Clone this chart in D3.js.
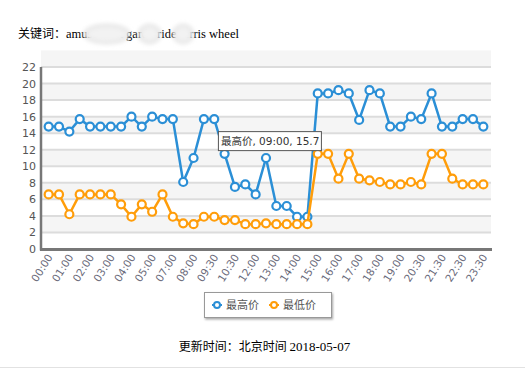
<!DOCTYPE html>
<html>
<head>
<meta charset="utf-8">
<script src="https://cdn.jsdelivr.net/npm/d3@7"></script>
<style>
  body { margin: 0; background: #fff; }
  svg { display: block; }
  .tick-lbl { font-family: Verdana, "DejaVu Sans", sans-serif; font-size: 11px; fill: #555; }
  .cjk { font-family: "Noto Sans CJK SC", sans-serif; }
  .serif { font-family: "Liberation Serif", "Times New Roman", serif; }
</style>
</head>
<body>
<div id="chart"></div>
<script>
// half-hour slots (a few are missing in the source data)
const times = ['00:00', '00:30', '01:00', '01:30', '02:00', '02:30', '03:00', '03:30',
  '04:00', '04:30', '05:00', '06:00', '07:00', '07:30', '08:00', '09:00', '09:30',
  '10:00', '10:30', '11:00', '12:00', '12:30', '13:00', '13:30', '14:00', '14:30',
  '15:00', '15:30', '16:00', '16:30', '17:00', '17:30', '18:00', '18:30', '19:00',
  '20:00', '20:30', '21:00', '21:30', '22:00', '22:30', '23:00', '23:30'];

const highPrice = [14.8, 14.8, 14.2, 15.7, 14.8, 14.8, 14.8, 14.8, 16.0, 14.8, 16.0,
  15.7, 15.7, 8.1, 11.0, 15.7, 15.7, 11.5, 7.5, 7.8, 6.6, 11.0, 5.2, 5.2, 3.9, 3.9,
  18.8, 18.8, 19.2, 18.8, 15.6, 19.2, 18.8, 14.8, 14.8, 16.0, 15.7, 18.8, 14.8, 14.8,
  15.7, 15.7, 14.8];

const lowPrice = [6.6, 6.6, 4.2, 6.6, 6.6, 6.6, 6.6, 5.4, 3.9, 5.4, 4.5, 6.6, 3.9,
  3.1, 3.0, 3.9, 3.9, 3.5, 3.5, 3.0, 3.0, 3.1, 3.0, 3.0, 3.0, 3.0, 11.5, 11.5, 8.5,
  11.5, 8.5, 8.3, 8.1, 7.8, 7.8, 8.1, 7.8, 11.5, 11.5, 8.5, 7.8, 7.8, 7.8];

const yTicks = d3.range(0, 23, 2);
const seriesNames = ['最高价', '最低价'];
const seriesColors = ['#2b8fd6', '#ff9d0a'];

// keyword pieces; the hidden ones are smudged over in the original
const keywordParts = [['amu', false], ['sement ', true], ['gar', false], ['de ', true],
  ['ride', false], [' fe', true], ['rris wheel', false]];

const W = 525, H = 371;
const plotL = 41, plotR = 491, plotT = 67, plotB = 249;

const svg = d3.select('#chart').append('svg').attr('width', W).attr('height', H);

const defs = svg.append('defs');
const blur = defs.append('filter').attr('id', 'blur')
  .attr('x', '-50%').attr('y', '-50%').attr('width', '200%').attr('height', '200%');
blur.append('feGaussianBlur').attr('stdDeviation', 2);
const shadow = defs.append('filter').attr('id', 'shadow')
  .attr('x', '-20%').attr('y', '-30%').attr('width', '140%').attr('height', '170%');
shadow.append('feDropShadow').attr('dx', 1).attr('dy', 1.5)
  .attr('stdDeviation', 1.2).attr('flood-color', '#000').attr('flood-opacity', 0.35);

/* title */
const title = svg.append('text').attr('x', 18).attr('y', 38).style('font-size', '12px');
title.append('tspan').attr('class', 'cjk').text('关键词：');
const kw = title.selectAll('tspan.kw').data(keywordParts).enter().append('tspan')
  .attr('class', 'kw serif')
  .style('font-size', '12.5px')
  .text((d) => d[0]);

const smudgeG = svg.append('g').attr('filter', 'url(#blur)');
kw.filter((d) => d[1]).each(function () {
  const b = this.getBBox();
  smudgeG.append('ellipse')
    .attr('cx', b.x + b.width / 2).attr('cy', b.y + b.height / 2)
    .attr('rx', b.width / 2 + 3).attr('ry', b.height / 2 + 2)
    .attr('fill', '#f2f2f2').attr('stroke', '#dcdcdc').attr('stroke-width', 2);
});

/* scales */
const x = d3.scalePoint().domain(times).range([plotL, plotR]).padding(0.74);
const y = d3.scaleLinear().domain([0, 22]).range([plotB, plotT]);

const plot = svg.append('g').attr('class', 'chart-g');

// alternating bands
plot.selectAll('rect.band')
  .data(yTicks.filter((d) => d % 4 === 2))
  .enter().append('rect')
  .attr('class', 'band')
  .attr('x', plotL).attr('width', plotR - plotL)
  .attr('y', (d) => y(d + 2)).attr('height', (d) => y(d) - y(d + 2))
  .attr('fill', '#f5f5f5');

plot.selectAll('line.grid')
  .data(yTicks.filter((d) => d > 0))
  .enter().append('line')
  .attr('class', 'grid')
  .attr('x1', plotL).attr('x2', plotR)
  .attr('y1', (d) => y(d)).attr('y2', (d) => y(d))
  .attr('stroke', '#dcdcdc').attr('stroke-width', 2);

// axes
const yAxis = svg.append('g')
  .attr('transform', `translate(${plotL},0)`)
  .call(d3.axisLeft(y).tickValues(yTicks).tickSize(0).tickPadding(5));
yAxis.select('.domain').remove();
yAxis.selectAll('text').attr('class', 'tick-lbl').attr('fill', null);

const xAxis = svg.append('g')
  .attr('transform', `translate(0,${plotB})`)
  .call(d3.axisBottom(x).tickValues(times.filter((d, i) => i % 2 === 0)).tickSize(0));
xAxis.select('.domain').remove();
xAxis.selectAll('text')
  .attr('class', 'tick-lbl')
  .attr('fill', null)
  .style('fill', '#6a6a7a')
  .style('font-size', '10.5px')
  .attr('text-anchor', 'end')
  .attr('dy', null)
  .attr('y', 0)
  .attr('transform', 'translate(4,8) rotate(-58)');

svg.append('line')
  .attr('x1', plotL).attr('x2', plotL).attr('y1', plotT).attr('y2', plotB + 1.5)
  .attr('stroke', '#777').attr('stroke-width', 2.5);
svg.append('line')
  .attr('x1', plotL - 1).attr('x2', plotR + 1).attr('y1', plotB + 0.5).attr('y2', plotB + 0.5)
  .attr('stroke', '#777').attr('stroke-width', 3);

/* series */
const line = d3.line().x((d, i) => x(times[i])).y((d) => y(d));

[highPrice, lowPrice].forEach((vals, k) => {
  const g = svg.append('g').attr('class', 'series');
  g.append('path')
    .attr('d', line(vals))
    .attr('fill', 'none')
    .attr('stroke', seriesColors[k])
    .attr('stroke-width', 2.5)
    .attr('stroke-linejoin', 'round');
  g.selectAll('circle').data(vals).enter().append('circle')
    .attr('cx', (d, i) => x(times[i]))
    .attr('cy', (d) => y(d))
    .attr('r', 4)
    .attr('fill', '#fff')
    .attr('stroke', seriesColors[k])
    .attr('stroke-width', 2.2);
});

/* tooltip on 09:00 */
const tipIdx = times.indexOf('09:00');
const tx = x(times[tipIdx]) + 14, ty = y(highPrice[tipIdx]) + 12;
const tip = svg.append('g').attr('transform', `translate(${tx},${ty})`);
tip.append('rect')
  .attr('x', 0.5).attr('y', 0.5).attr('width', 103).attr('height', 19)
  .attr('fill', '#fff').attr('stroke', '#555');
tip.append('text')
  .attr('x', 3).attr('y', 14)
  .style('font-family', 'Verdana, "DejaVu Sans", "Noto Sans CJK SC", sans-serif')
  .style('font-size', '10.5px').style('fill', '#333')
  .text(`${seriesNames[0]}, ${times[tipIdx]}, ${highPrice[tipIdx]}`);

/* legend */
const legend = svg.append('g').attr('transform', 'translate(204,292)');
legend.append('rect')
  .attr('x', 0.5).attr('y', 0.5).attr('width', 127).attr('height', 25)
  .attr('fill', '#fff').attr('stroke', '#999').attr('filter', 'url(#shadow)');

const items = legend.selectAll('g.item').data(seriesNames).enter().append('g')
  .attr('class', 'item')
  .attr('transform', (d, i) => `translate(${8 + i * 57},13)`);
items.append('line')
  .attr('x1', 0).attr('x2', 10)
  .attr('stroke', (d, i) => seriesColors[i]).attr('stroke-width', 2);
items.append('circle')
  .attr('cx', 5).attr('r', 3)
  .attr('fill', '#fff').attr('stroke', (d, i) => seriesColors[i]).attr('stroke-width', 2);
items.append('text')
  .attr('x', 14).attr('y', 4)
  .attr('class', 'cjk')
  .style('font-size', '11px').style('fill', '#555')
  .text((d) => d);

/* footer */
const foot = svg.append('text').attr('x', W / 2 + 2).attr('y', 351)
  .attr('text-anchor', 'middle').style('font-size', '12px');
foot.append('tspan').attr('class', 'cjk').text('更新时间：北京时间 ');
foot.append('tspan').attr('class', 'serif').style('font-size', '13px').text('2018-05-07');

svg.append('line')
  .attr('x1', 0).attr('x2', W).attr('y1', 367.5).attr('y2', 367.5)
  .attr('stroke', '#e2e2e2').attr('stroke-width', 1);
</script>
</body>
</html>
